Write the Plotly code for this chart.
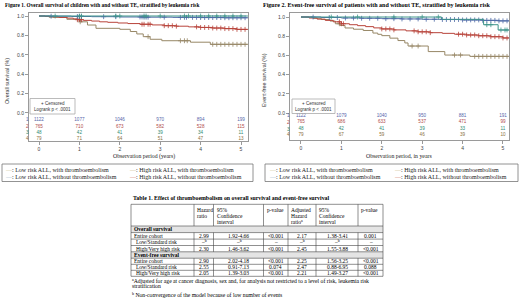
import plotly.graph_objects as go

W, H = 520, 303

# ---------------- DATA ----------------
years = [0, 1, 2, 3, 4, 5]

# Figure 1: overall survival (KM step points)
os_low_noTE_t = [0, 0.3, 0.8, 1.3, 2.0, 2.6, 3.3, 4.0, 4.6, 5.17]
os_low_noTE_s = [1.0, 0.998, 0.995, 0.993, 0.99, 0.988, 0.986, 0.984, 0.982, 0.982]
os_low_TE_t = [0, 5.17]
os_low_TE_s = [1.0, 1.0]
os_high_noTE_t = [0, 0.15, 0.35, 0.5, 0.7, 0.85, 0.95, 1.1, 1.3, 1.5, 1.7, 1.95, 2.2, 2.5, 2.8, 3.1, 3.4, 3.7, 4.0, 4.3, 4.6, 4.9, 5.17]
os_high_noTE_s = [1.0, 0.995, 0.99, 0.985, 0.978, 0.97, 0.962, 0.955, 0.948, 0.94, 0.935, 0.928, 0.922, 0.915, 0.908, 0.9, 0.895, 0.888, 0.882, 0.876, 0.87, 0.862, 0.862]
os_high_TE_t = [0, 0.25, 0.69, 1.02, 1.2, 1.41, 2.0, 2.26, 2.42, 2.58, 2.75, 3.04, 3.75, 4.24, 5.17]
os_high_TE_s = [1.0, 0.987, 0.966, 0.94, 0.907, 0.873, 0.863, 0.84, 0.815, 0.787, 0.76, 0.745, 0.73, 0.708, 0.708]

os_low_noTE_c = [0.3, 0.95, 1.0, 1.05, 1.6, 1.9, 2.5, 2.55, 2.6, 2.65, 2.7, 3.1, 3.5, 3.6, 3.65, 3.8, 3.9, 4.0, 4.1, 4.2, 4.3, 4.4, 4.5, 4.6, 4.7, 4.8, 4.9, 5.0, 5.1]
os_low_TE_c = [0.4, 1.0, 1.05, 1.9, 2.0, 2.6, 2.65, 3.0, 3.6, 3.7, 4.0, 4.2, 4.4, 4.6, 4.8, 5.0]
os_high_noTE_c = [0.95, 1.0, 1.05, 2.55, 2.6, 2.7, 2.75, 3.1, 3.2, 3.3, 3.4, 3.9, 4.0, 4.1, 4.2, 4.3, 4.4, 4.5, 4.6, 4.7, 4.8, 4.9, 5.0, 5.1]
os_high_TE_c = [1.0, 1.02, 2.7, 3.5, 3.6, 3.67, 4.3, 4.4, 4.5, 4.6, 4.7, 4.8, 4.9, 5.0, 5.1]

os_risk = [
    [1122, 1077, 1046, 970, 894, 199],
    [765, 710, 673, 582, 528, 115],
    [48, 42, 41, 39, 34, 11],
    [79, 71, 64, 51, 47, 13],
]

# Figure 2: event-free survival
efs_low_noTE_t = [0, 0.5, 1.0, 1.5, 2.0, 2.5, 3.0, 3.5, 4.0, 4.5, 4.9, 5.15]
efs_low_noTE_s = [1.0, 0.995, 0.99, 0.987, 0.983, 0.98, 0.977, 0.974, 0.97, 0.965, 0.96, 0.96]
efs_low_TE_t = [0, 3.48, 4.52, 4.88, 5.15]
efs_low_TE_s = [1.0, 0.976, 0.92, 0.865, 0.865]
efs_high_noTE_t = [0, 0.2, 0.4, 0.6, 0.8, 1.0, 1.2, 1.4, 1.6, 1.8, 2.0, 2.3, 2.6, 2.9, 3.2, 3.5, 3.8, 4.1, 4.4, 4.7, 5.0, 5.15]
efs_high_noTE_s = [1.0, 0.99, 0.978, 0.965, 0.95, 0.93, 0.92, 0.91, 0.9, 0.887, 0.876, 0.866, 0.856, 0.846, 0.837, 0.83, 0.821, 0.813, 0.805, 0.795, 0.782, 0.782]
efs_high_TE_t = [0, 0.3, 0.5, 0.72, 0.85, 0.97, 1.09, 1.3, 1.54, 1.78, 1.9, 2.0, 2.2, 2.4, 2.57, 2.65, 3.15, 3.56, 4.18, 5.15]
efs_high_TE_s = [1.0, 0.987, 0.974, 0.958, 0.93, 0.912, 0.886, 0.873, 0.86, 0.833, 0.82, 0.806, 0.78, 0.755, 0.73, 0.698, 0.64, 0.604, 0.59, 0.59]

efs_low_noTE_c = [0.3, 0.7, 0.9, 1.1, 1.3, 1.5, 1.7, 1.9, 2.1, 2.3, 2.5, 2.7, 2.9, 3.1, 3.3, 3.5, 3.6, 3.7, 3.8, 3.9, 4.0, 4.1, 4.2, 4.3, 4.4, 4.5, 4.6, 4.7, 4.8, 4.9, 5.0, 5.1]
efs_low_TE_c = [0.75, 1.4, 2.3, 3.0, 3.4, 4.6, 4.7, 4.95, 5.05, 5.1]
efs_high_noTE_c = [0.95, 1.0, 1.05, 2.0, 2.1, 2.2, 2.3, 2.8, 2.9, 3.0, 3.1, 3.2, 3.9, 4.0, 4.1, 4.2, 4.3, 4.4, 4.5, 4.6, 4.7, 4.8, 4.9, 5.0, 5.1]
efs_high_TE_c = [0.95, 2.75, 2.9, 3.8, 3.95, 4.3, 4.4, 4.5, 4.6, 4.7, 4.8, 4.9, 5.0, 5.1]

efs_risk = [
    [1122, 1079, 1040, 950, 881, 191],
    [765, 686, 633, 537, 471, 99],
    [48, 42, 41, 39, 33, 11],
    [79, 67, 59, 46, 39, 10],
]

yticks = [0.0, 0.2, 0.4, 0.6, 0.8, 1.0]

legend_labels = [
    "Low risk ALL, with thromboembolism",
    "Low risk ALL, without thromboembolism",
    "High risk ALL, with thromboembolism",
    "High risk ALL, without thromboembolism",
]

table_header = [
    ["Hazard", "ratio"],
    ["95%", "Confidence", "interval"],
    ["p-value"],
    ["Adjusted", "Hazard", "ratio<sup>a</sup>"],
    ["95%", "Confidence", "interval"],
    ["p-value"],
]
section_names = ["Overall survival", "Event-free survival"]
row_names = ["Entire cohort", "Low/Standard risk", "High/Very high risk"]
os_table = [
    ["2.99", "1.92-4.66", "<0.001", "2.17", "1.38-3.41", "0.001"],
    ["–<sup>b</sup>", "–<sup>b</sup>", "–", "–<sup>b</sup>", "–<sup>b</sup>", "–"],
    ["2.30", "1.46-3.62", "<0.001", "2.45", "1.55-3.88", "<0.001"],
]
efs_table = [
    ["2.90", "2.02-4.18", "<0.001", "2.25", "1.56-3.25", "<0.001"],
    ["2.55", "0.91-7.13", "0.074", "2.47", "0.88-6.95", "0.088"],
    ["2.05", "1.39-3.03", "<0.001", "2.21", "1.49-3.27", "<0.001"],
]
footnotes = [
    "<sup>a</sup>Adjusted for age at cancer diagnosis, sex and, for analysis not restricted to a level of risk, leukemia risk",
    "stratification",
    "<sup>b</sup> Non-convergence of the model because of low number of events",
]

# ---------------- STYLE ----------------
C_BLUE = "#4d69a6"
C_RED = "#b8433a"
C_TEAL = "#3f958a"
C_OLIVE = "#978766"
RISK_COLORS = ["#5566aa", "#b04a4a", "#2e8a70", "#8a7040"]
LEG_COLORS = ["#cdc298", "#9fb6c8", "#c8b88a", "#cf6a5a"]
SERIF = "Liberation Serif"
SANS = "Liberation Sans"

fig = go.Figure()


def X(p):
    return p / W


def Y(p):
    return 1 - p / H


def ann(x, y, text, size=5, family=SERIF, color="black", xanchor="left", yanchor="middle", angle=0):
    fig.add_annotation(x=X(x), y=Y(y), xref="paper", yref="paper", text=text, showarrow=False,
                       font=dict(size=size, family=family, color=color), xanchor=xanchor,
                       yanchor=yanchor, textangle=angle, borderpad=0)


def rect(x0, y0, x1, y1, color="#888", width=0.8, fill=None):
    fig.add_shape(type="rect", xref="paper", yref="paper", x0=X(x0), x1=X(x1), y0=Y(y1), y1=Y(y0),
                  line=dict(color=color, width=width), fillcolor=fill, layer="below" if fill else "above")


def line(x0, y0, x1, y1, color="#444", width=0.6):
    fig.add_shape(type="line", xref="paper", yref="paper", x0=X(x0), x1=X(x1), y0=Y(y0), y1=Y(y1),
                  line=dict(color=color, width=width))


def surv_at(ts, ss, t):
    v = ss[0]
    for tt, s in zip(ts, ss):
        if tt <= t:
            v = s
    return v


def km(t, s, cens, color, xa, ya):
    fig.add_trace(go.Scatter(x=t, y=s, mode="lines", line=dict(color=color, width=1, shape="hv"),
                             xaxis=xa, yaxis=ya, hoverinfo="skip"))
    fig.add_trace(go.Scatter(x=cens, y=[surv_at(t, s, c) for c in cens], mode="markers",
                             marker=dict(symbol="cross-thin", size=3.5, line=dict(color=color, width=0.8)),
                             xaxis=xa, yaxis=ya, hoverinfo="skip"))


# Figure 1 curves
km(os_high_TE_t, os_high_TE_s, os_high_TE_c, C_OLIVE, "x", "y")
km(os_high_noTE_t, os_high_noTE_s, os_high_noTE_c, C_RED, "x", "y")
km(os_low_noTE_t, os_low_noTE_s, os_low_noTE_c, C_BLUE, "x", "y")
km(os_low_TE_t, os_low_TE_s, os_low_TE_c, C_TEAL, "x", "y")
# Figure 2 curves
km(efs_high_TE_t, efs_high_TE_s, efs_high_TE_c, C_OLIVE, "x2", "y2")
km(efs_high_noTE_t, efs_high_noTE_s, efs_high_noTE_c, C_RED, "x2", "y2")
km(efs_low_noTE_t, efs_low_noTE_s, efs_low_noTE_c, C_BLUE, "x2", "y2")
km(efs_low_TE_t, efs_low_TE_s, efs_low_TE_c, C_TEAL, "x2", "y2")

# risk tables (numbers at risk)
os_rows_y = [-0.072, -0.144, -0.206, -0.268]
efs_rows_y = [-0.031, -0.094, -0.167, -0.229]
for i in range(4):
    fig.add_trace(go.Scatter(x=years, y=[os_rows_y[i]] * 6, mode="text", text=[str(v) for v in os_risk[i]],
                             textfont=dict(size=4.6, family=SANS, color=RISK_COLORS[i]),
                             xaxis="x", yaxis="y", hoverinfo="skip"))
    fig.add_trace(go.Scatter(x=years, y=[efs_rows_y[i]] * 6, mode="text", text=[str(v) for v in efs_risk[i]],
                             textfont=dict(size=4.6, family=SANS, color=RISK_COLORS[i]),
                             xaxis="x2", yaxis="y2", hoverinfo="skip"))
    ann(27.5, 113 + 97 * (-os_rows_y[i]), str(i + 1), 4.6, SANS, RISK_COLORS[i], "center")
    ann(288.5, 113 + 96 * (-efs_rows_y[i]), str(i + 1), 4.6, SANS, RISK_COLORS[i], "center")

ax_common = dict(showgrid=False, zeroline=False, showline=True, mirror=True, linecolor="#9a9a9a",
                 linewidth=1, ticks="outside", ticklen=3, tickwidth=0.8, tickcolor="#9a9a9a",
                 tickfont=dict(size=5, family=SANS, color="#444"))
fig.update_layout(
    width=W, height=H, margin=dict(l=0, r=0, t=0, b=0), paper_bgcolor="white", plot_bgcolor="white",
    showlegend=False,
    xaxis=dict(domain=[X(29), X(248)], range=[-0.2475, 5.173], tickvals=years, anchor="y", **ax_common),
    yaxis=dict(domain=[Y(141), Y(13)], range=[-0.289, 1.031], tickvals=yticks,
               ticktext=["%.1f" % v for v in yticks], anchor="x", **ax_common),
    xaxis2=dict(domain=[X(290), X(509)], range=[-0.272, 5.149], tickvals=years, anchor="y2", **ax_common),
    yaxis2=dict(domain=[Y(140), Y(13)], range=[-0.281, 1.042], tickvals=yticks,
                ticktext=["%.1f" % v for v in yticks], anchor="x2", **ax_common),
)

# titles
ann(4, 5, "<b>Figure 1. Overall survival of children with and without TE, stratified by leukemia risk</b>", 5.3)
ann(262, 5, "<b>Figure 2. Event-free survival of patients with and without TE, stratified by leukemia risk</b>", 6.0)
ann(7, 81, "Overall survival (%)", 5.3, SANS, "#333", "center", angle=-90)
ann(264, 80, "Event-free survival (%)", 5.3, SANS, "#333", "center", angle=-90)
ann(143.5, 156, "Observation period (years)", 5.8, SERIF, "#222", "center")
ann(398.5, 156, "Observation period, in years", 5.8, SERIF, "#222", "center")

# inner legend boxes
rect(30, 98.5, 75, 114, "#aaa", 0.8)
ann(52.5, 103, "+ Censored", 4.5, SANS, "#333", "center")
ann(52.5, 110, "Logrank p < .0001", 4.5, SANS, "#333", "center")
rect(292, 99, 335, 113.5, "#aaa", 0.8)
ann(313.5, 103.5, "+ Censored", 4.5, SANS, "#333", "center")
ann(313.5, 110, "Logrank p < .0001", 4.5, SANS, "#333", "center")

# bottom legends
for (bx0, bx1, c1, c2) in [(2, 253, 3.5, 128), (265, 518, 268, 393)]:
    rect(bx0, 164, bx1, 181.5, "#777", 0.8)
    pos = [(c1, 169.5), (c1, 176.5), (c2, 169.5), (c2, 176.5)]
    for k in range(4):
        ann(pos[k][0], pos[k][1],
            "<span style='color:%s'>—</span>: %s" % (LEG_COLORS[k], legend_labels[k]), 6, SERIF, "#222")

# table
ann(132, 198, "<b>Table 1. Effect of thromboembolism on overall survival and event-free survival</b>", 5.85)
cols = [131, 194, 213.5, 263.5, 288, 316, 358, 383]
top, hb = 204.3, 226
rows = [226, 232.6, 239.1, 245.5, 251.8, 258.2, 264.3, 270.3, 276.3]
TF = 5.5
# shaded section rows
rect(cols[0], rows[0], cols[-1], rows[1], "rgba(0,0,0,0)", 0, "#e4e4e4")
rect(cols[0], rows[4], cols[-1], rows[5], "rgba(0,0,0,0)", 0, "#e4e4e4")
# horizontal lines
for yy in [top, hb] + rows[1:]:
    line(cols[0], yy, cols[-1], yy)
# outer verticals
line(cols[0], top, cols[0], rows[-1])
line(cols[-1], top, cols[-1], rows[-1])
# inner verticals (not in section rows)
for xx in cols[1:-1]:
    line(xx, top, xx, hb)
    line(xx, rows[1], xx, rows[4])
    line(xx, rows[5], xx, rows[-1])
# header text
for j, lines_ in enumerate(table_header):
    for k, t in enumerate(lines_):
        ann(cols[j + 1] + 2, 209.5 + 6.2 * k, t, TF)
# section rows and data
for s, (name, data) in enumerate([(section_names[0], os_table), (section_names[1], efs_table)]):
    base = 4 * s
    ann(cols[0] + 1.5, (rows[base] + rows[base + 1]) / 2, "<b>%s</b>" % name, TF)
    for r in range(3):
        yc = (rows[base + 1 + r] + rows[base + 2 + r]) / 2
        ann(cols[0] + (1.5 if r == 0 else 3.5), yc, row_names[r], TF)
        for j in range(6):
            ann((cols[j + 1] + cols[j + 2]) / 2, yc, data[r][j], TF, xanchor="center")
# footnotes
ann(131, 280.5, footnotes[0], 5.7)
ann(131, 286, footnotes[1], 5.7)
ann(131, 294, footnotes[2], 5.7)

fig.write_html("out.html", config={"displayModeBar": False},
               post_script="document.body.style.margin='0';document.body.style.padding='0';")
